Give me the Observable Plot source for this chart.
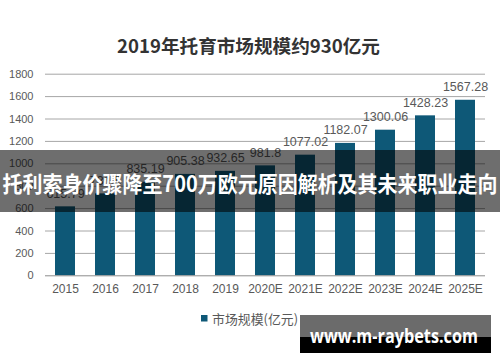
<!DOCTYPE html>
<html><head><meta charset="utf-8">
<script src="https://cdn.jsdelivr.net/npm/d3@7"></script>
<script src="https://cdn.jsdelivr.net/npm/@observablehq/plot@0.6"></script>
<style>body{margin:0;background:#fff} #chart{position:relative;width:500px;height:362px}</style>
</head><body><div id="chart"></div>
<script>
const categories = ["2015","2016","2017","2018","2019","2020E","2021E","2022E","2023E","2024E","2025E"];
const values = [615.79, 731.5, 835.19, 905.38, 932.65, 981.8, 1077.02, 1182.07, 1300.06, 1428.23, 1567.28];
const yTicks = [0,200,400,600,800,1000,1200,1400,1600,1800];
const titleText = "2019年托育市场规模约930亿元";
const seriesName = "市场规模(亿元)";
const bannerText = "托利索身价骤降至700万欧元原因解析及其未来职业走向";
const watermarkText = "www.m-raybets.com";

const barColor = "#0e5877";
const data = categories.map((c, i) => ({year: c, value: values[i]}));

const plot = Plot.plot({
  width: 500, height: 362,
  marginTop: 73.7, marginBottom: 86.7, marginLeft: 45, marginRight: 15,
  style: {fontFamily: "'Liberation Sans', Arial, sans-serif", background: "#fff", overflow: "visible"},
  x: {domain: categories, paddingInner: 0.5, paddingOuter: 0.25, label: null},
  y: {domain: [0, 1800], label: null},
  marks: [
    Plot.ruleY(yTicks.filter(d => d > 0), {stroke: "#a6a6a6", strokeWidth: 1}),
    Plot.barY(data, {x: "year", y: "value", fill: barColor}),
    Plot.ruleY([0], {stroke: "#8c8c8c", strokeWidth: 1}),
    Plot.text(data, {x: "year", y: "value", text: d => String(d.value), dy: -13, fontSize: 12.5, fill: "#595959"}),
    Plot.axisY({ticks: yTicks, tickFormat: d => String(d), tickSize: 0, tickPadding: 12, fontSize: 11, fill: "#595959", label: null}),
    Plot.axisX({tickSize: 0, tickPadding: 9, fontSize: 12, fill: "#595959", label: null})
  ]
});
document.getElementById("chart").appendChild(plot);

const svg = d3.select(plot);
const cjk = "'Noto Sans CJK SC', 'Noto Sans', sans-serif";
// title
svg.append("text").attr("x", 248.5).attr("y", 45).attr("text-anchor", "middle")
  .attr("dominant-baseline", "central").attr("font-family", cjk).attr("font-weight", "bold")
  .attr("font-size", 18.5).attr("fill", "#333").attr("textLength", 263).attr("lengthAdjust", "spacingAndGlyphs")
  .text(titleText);
// legend
svg.append("rect").attr("x", 201).attr("y", 315).attr("width", 6.5).attr("height", 6.5).attr("fill", barColor);
svg.append("text").attr("x", 212).attr("y", 318.5).attr("text-anchor", "start").attr("dominant-baseline", "central")
  .attr("font-family", cjk).attr("font-size", 13).attr("fill", "#595959")
  .attr("textLength", 86).attr("lengthAdjust", "spacingAndGlyphs").text(seriesName);
// banner overlay
svg.append("rect").attr("x", 0).attr("y", 150).attr("width", 500).attr("height", 62).attr("fill", "#000").attr("fill-opacity", 0.57);
svg.append("text").attr("x", 250).attr("y", 182).attr("text-anchor", "middle").attr("dominant-baseline", "central")
  .attr("font-family", cjk).attr("font-weight", "bold").attr("font-size", 22).attr("fill", "#fff")
  .attr("textLength", 495).attr("lengthAdjust", "spacingAndGlyphs").text(bannerText);
// watermark
svg.append("rect").attr("x", 300).attr("y", 315).attr("width", 191).attr("height", 22).attr("fill", "#6b6b6b");
svg.append("rect").attr("x", 300).attr("y", 337).attr("width", 191).attr("height", 16).attr("fill", "#000");
svg.append("text").attr("x", 394).attr("y", 336).attr("text-anchor", "middle").attr("dominant-baseline", "central")
  .attr("font-family", "'Open Sans', 'DejaVu Sans', sans-serif").attr("font-weight", "bold").attr("font-size", 19).attr("fill", "#fff")
  .attr("textLength", 168).attr("lengthAdjust", "spacingAndGlyphs").text(watermarkText);
</script>
</body></html>
